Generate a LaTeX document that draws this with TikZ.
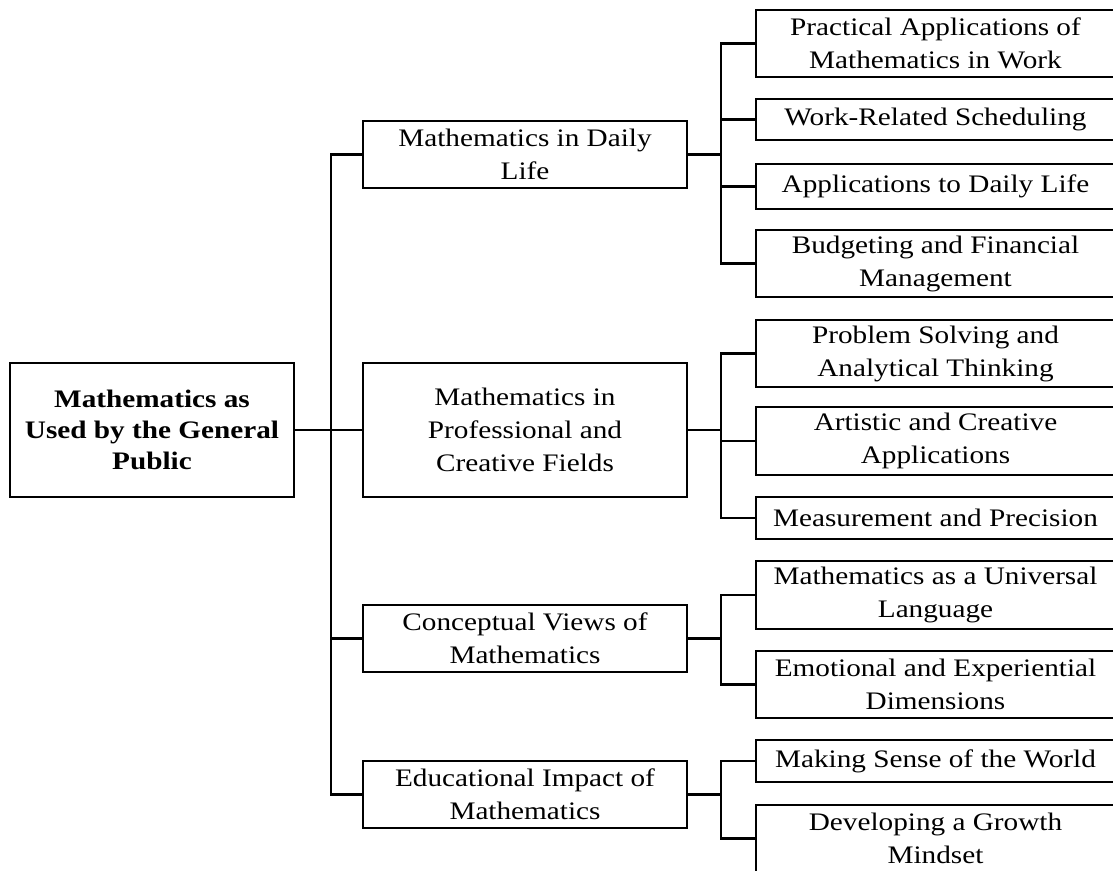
\documentclass[tikz,border=0pt]{standalone}
\usepackage{fontspec}
\setmainfont{Liberation Serif}[FakeStretch=1.16]
\begin{document}
\begin{tikzpicture}[x=1pt,y=-1pt,line width=2.3pt,
  box/.style={draw,rectangle,inner sep=0pt,align=center,
    font=\fontsize{25.2}{33}\selectfont},
  rootbox/.style={box,font=\fontsize{25.2}{31}\selectfont\bfseries},
  lone/.style={box,minimum width=324pt},
  ltwo/.style={box,minimum width=359pt}]
\useasboundingbox (0,0) rectangle (1113,870);

% root
\node[rootbox,minimum width=284pt,minimum height=134pt] (root) at (152,430)
  {Mathematics as\\Used by the General\\Public};

% level 1
\node[lone,minimum height=67pt]  (A) at (525,154.5) {Mathematics in Daily\\Life};
\node[lone,minimum height=134pt] (B) at (525,430)   {Mathematics in\\Professional and\\Creative Fields};
\node[lone,minimum height=67pt]  (C) at (525,638.5) {Conceptual Views of\\Mathematics};
\node[lone,minimum height=67pt]  (D) at (525,794.5) {Educational Impact of\\Mathematics};

% level 2
\node[ltwo,minimum height=67pt] (a1) at (935.5,43.5)  {Practical Applications of\\Mathematics in Work};
\node[ltwo,minimum height=41pt] (a2) at (935.5,119.5) {Work-Related Scheduling};
\node[ltwo,minimum height=45pt] (a3) at (935.5,186.5) {Applications to Daily Life};
\node[ltwo,minimum height=67pt] (a4) at (935.5,263.5) {Budgeting and Financial\\Management};
\node[ltwo,minimum height=67pt] (b1) at (935.5,353.5) {Problem Solving and\\Analytical Thinking};
\node[ltwo,minimum height=68pt] (b2) at (935.5,441)   {Artistic and Creative\\Applications};
\node[ltwo,minimum height=42pt] (b3) at (935.5,518)   {Measurement and Precision};
\node[ltwo,minimum height=68pt] (c1) at (935.5,595)   {Mathematics as a Universal\\Language};
\node[ltwo,minimum height=67pt] (c2) at (935.5,684.5) {Emotional and Experiential\\Dimensions};
\node[ltwo,minimum height=42pt] (d1) at (935.5,761)   {Making Sense of the World};
\node[ltwo,minimum height=67pt] (d2) at (935.5,838.5) {Developing a Growth\\Mindset};

% trunk
\coordinate (t) at (331,0);
\draw (root.east) -- (B.west);
\draw (A.west) -- (A.west -| t) -- (D.west -| t) -- (D.west);
\draw (C.west -| t) -- (C.west);

% branches
\coordinate (s) at (721,0);
\draw (A.east) -- (A.east -| s);
\draw (a1.west) -- (a1.west -| s) -- (a4.west -| s) -- (a4.west);
\foreach \n in {a2,a3} \draw (\n.west -| s) -- (\n.west);
\draw (B.east) -- (B.east -| s);
\draw (b1.west) -- (b1.west -| s) -- (b3.west -| s) -- (b3.west);
\draw (b2.west -| s) -- (b2.west);
\draw (C.east) -- (C.east -| s);
\draw (c1.west) -- (c1.west -| s) -- (c2.west -| s) -- (c2.west);
\draw (D.east) -- (D.east -| s);
\draw (d1.west) -- (d1.west -| s) -- (d2.west -| s) -- (d2.west);
\end{tikzpicture}
\end{document}
